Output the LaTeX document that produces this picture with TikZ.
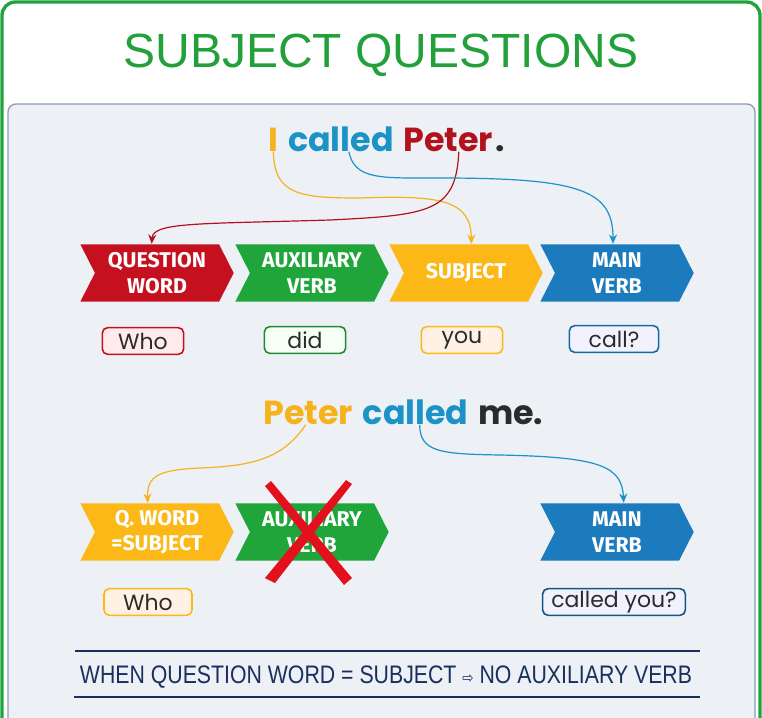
\documentclass[tikz,border=0pt]{standalone}
\usepackage{fontspec}
\setmainfont{Liberation Sans}
\newfontfamily\geofont{Poppins}
\newfontfamily\tagfont{Fira Sans}
\newfontfamily\symfont{DejaVu Sans}
\usetikzlibrary{positioning,shapes.symbols,arrows.meta}

\definecolor{framegreen}{HTML}{1FA33D}
\definecolor{titlegreen}{HTML}{22A03A}
\definecolor{panelfill}{HTML}{EDF1F5}
\definecolor{panelline}{HTML}{8C9DB4}
\definecolor{chevred}{HTML}{C5111F}
\definecolor{chevgreen}{HTML}{20A53B}
\definecolor{chevyellow}{HTML}{FBB817}
\definecolor{chevblue}{HTML}{1B7BBD}
\definecolor{wordyellow}{HTML}{F5B21C}
\definecolor{wordblue}{HTML}{1B93C7}
\definecolor{wordred}{HTML}{B2121D}
\definecolor{wordgray}{HTML}{2B2B2B}
\definecolor{navy}{HTML}{1B2F5E}
\definecolor{xred}{HTML}{E3101E}

\tikzset{every picture/.style={line width=0.75pt}}

\begin{document}
\begin{tikzpicture}[x=0.75pt,y=0.75pt,yscale=-1,xscale=1,
  chev/.style={signal, signal from=west, signal to=east, signal pointer angle=126,
    minimum width=115pt, minimum height=43pt, inner sep=0pt, draw=none,
    text=white, align=center, font=\tagfont\bfseries\fontsize{16}{19}\selectfont},
  wbox/.style={draw, rounded corners=4pt, line width=1.2pt, minimum height=20pt,
    inner sep=0pt, text=wordgray, font=\geofont\fontsize{16.5}{18}\selectfont},
  sent/.style={inner sep=0pt, font=\geofont\bfseries\fontsize{25}{28}\selectfont},
  link/.style={line width=0.9pt, -{Stealth[length=7pt,width=6pt]}},
  node distance=6.5pt]
	\useasboundingbox (0,0) rectangle (762,717);

	%Frame and panel
	\draw [draw=framegreen, fill=white, line width=2.5pt, rounded corners=10pt] (2,2) rectangle (760,740) ;
	\draw [draw=panelline, fill=panelfill, line width=1pt, rounded corners=6pt] (8,104) rectangle (755,740) ;

	% Title
	\node (title) at (381,55) {\fontsize{36}{40}\selectfont\color{titlegreen}SUBJECT QUESTIONS};

	% Sentence 1
	\node [sent, text=wordyellow, anchor=base west] (sI) at (268,151) {I};
	\node [sent, text=wordblue, base right=of sI] (sCalled) {called};
	\node [sent, text=wordred, base right=of sCalled] (sPeter) {Peter};
	\node [sent, text=wordgray, base right=1pt of sPeter] (sDot) {.};

	% Chevrons row 1
	\node [chev, fill=chevred] (qword) at (157,273) {QUESTION\\WORD};
	\node [chev, fill=chevgreen] (auxverb) at (312,273) {AUXILIARY\\VERB};
	\node [chev, fill=chevyellow] (subj) at (466,273) {SUBJECT};
	\node [chev, fill=chevblue] (mainverb) at (617,273) {MAIN\\VERB};

	% Word boxes row 1
	\node [wbox, draw=chevred, fill=red!8, minimum width=61pt] (who) at (143,341) {Who};
	\node [wbox, draw=chevgreen!85!black, fill=green!4, minimum width=61pt] (did) at (305,340) {did};
	\node [wbox, draw=chevyellow, fill=orange!10, minimum width=61pt] (you) at (462,340) {you};
	\node [wbox, draw=chevblue!85!black, fill=blue!5, minimum width=67pt] (call) at (614,339) {call?};

	%Curve Lines row 1
	\draw [link, draw=wordyellow] (sI.south) .. controls (274,195) and (300,198) .. (360,198) .. controls (440,195) and (471,200) .. ([xshift=4pt]subj.north) ;
	\draw [link, draw=wordred] ([xshift=8pt]sPeter.south) .. controls (456,212) and (430,215) .. (330,220) .. controls (200,224) and (153,222) .. ([xshift=-4pt]qword.north) ;
	\draw [link, draw=wordblue] ([xshift=6pt]sCalled.south) .. controls (355,180) and (380,178) .. (440,178) .. controls (580,178) and (613,190) .. ([xshift=-3pt]mainverb.north) ;

	% Sentence 2
	\node [sent, text=wordyellow, anchor=base west] (sPeterB) at (263,424) {Peter};
	\node [sent, text=wordblue, base right=of sPeterB] (sCalledB) {called};
	\node [sent, text=wordgray, base right=of sCalledB] (sMe) {me.};

	% Chevrons row 2
	\node [chev, fill=chevyellow] (qwordB) at (157,532) {Q. WORD\\=SUBJECT};
	\node [chev, fill=chevgreen] (auxverbB) at (312,532) {AUXILIARY\\VERB};
	\node [chev, fill=chevblue] (mainverbB) at (617,532) {MAIN\\VERB};

	%Cross
	\fill [xred] (265,486) -- (271,481) -- (352,578) -- (344,585) -- cycle ;
	\fill [xred] (346,480) -- (352,484) -- (275,583) -- (265,578) -- cycle ;

	% Word boxes row 2
	\node [wbox, draw=chevyellow, fill=orange!10, minimum width=66pt] (whoB) at (148,602) {Who};
	\node [wbox, draw=chevblue!70!black, fill=blue!5, minimum width=107pt] (calledyou) at (614,602) {called you?};

	%Curve Lines row 2
	\draw [link, draw=wordyellow] ([xshift=-2pt]sPeterB.south) .. controls (282,460) and (250,466) .. (200,468) .. controls (160,470) and (147,475) .. ([xshift=-7pt]qwordB.north) ;
	\draw [link, draw=wordblue] ([xshift=3pt]sCalledB.south) .. controls (420,452) and (440,454) .. (500,455) .. controls (600,457) and (622,466) .. ([xshift=5pt]mainverbB.north) ;

	%Straight Lines
	\draw [navy, line width=1.8pt] (75,651) -- (700,651) ;
	\draw [navy, line width=1.8pt] (74,697) -- (700,697) ;

	% Text Node
	\node [text=navy] (rule) at (386,677) {\scalebox{0.84}[1]{\fontsize{19}{22}\selectfont WHEN QUESTION WORD = SUBJECT {\symfont\fontsize{12}{12}\selectfont ⇨} NO AUXILIARY VERB}};

\end{tikzpicture}
\end{document}
